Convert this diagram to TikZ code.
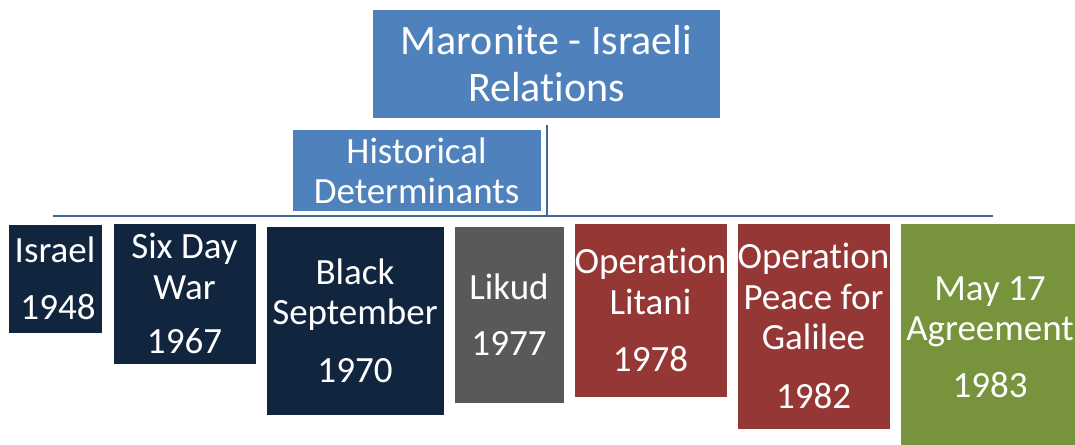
\documentclass[tikz,border=0pt]{standalone}
\usepackage{fontspec}
\setmainfont{Carlito}[Ligatures=NoCommon]
% break the t-i pair so no ligature is formed
\newcommand{\tI}{t\kern0pt i}
\definecolor{accentblue}{HTML}{4F81BD}
\definecolor{linkblue}{HTML}{40689C}
\definecolor{navy}{HTML}{12253F}
\definecolor{slate}{HTML}{595959}
\definecolor{brick}{HTML}{953735}
\definecolor{olive}{HTML}{77933C}
\tikzset{
  boxbase/.style={rectangle, inner sep=0pt, outer sep=0pt, text=white, align=center},
  titlebox/.style={boxbase, fill=accentblue, font=\fontsize{42bp}{47bp}\selectfont},
  subtitlebox/.style={boxbase, fill=accentblue, draw=white, line width=3bp,
    font=\fontsize{37bp}{40bp}\selectfont},
  eventbox/.style={boxbase, fill=#1, draw=white, line width=0.8bp,
    font=\fontsize{37bp}{40.5bp}\selectfont},
  link/.style={draw=linkblue, line width=2bp}
}
\begin{document}
\begin{tikzpicture}[x=1bp, y=-1bp]
\useasboundingbox (0,0) rectangle (1075,445);

% title and its branch point
\node[titlebox, minimum width=347bp, minimum height=108bp] (title) at (546.5,64)
  {Maronite - Israeli\\Rela\tI ons};
\coordinate (bar) at (547,216.5);

% timeline boxes
\node[eventbox=navy, minimum width=94bp, minimum height=109bp] (israel) at (55,278.5)
  {Israel\\[16bp]\hspace*{6bp}1948};
\node[eventbox=navy, minimum width=143bp, minimum height=141bp] (sixday) at (184.5,293.5)
  {Six Day\\War\\[14bp]1967};
\node[eventbox=navy, minimum width=178bp, minimum height=189bp] (blacksep) at (355,320.5)
  {Black\\September\\[17bp]1970};
\node[eventbox=slate, minimum width=110bp, minimum height=177bp] (likud) at (509,314.5)
  {Likud\\[16bp]1977};
\node[eventbox=brick, minimum width=153bp, minimum height=174bp] (litani) at (650.5,310)
  {Opera\tI on\\Li\kern0pt tani\\[17bp]1978};
\node[eventbox=brick, minimum width=153bp, minimum height=206bp] (peace) at (813.5,326)
  {Opera\tI on\\Peace for\\Galilee\\[18bp]1982};
\node[eventbox=olive, minimum width=180bp, minimum height=228bp] (may17) at (990,337)
  {May 17\\Agreement\\[16bp]1983};

% connectors: trunk from the title, bar over the timeline
\path[link] (title.south -| bar) ++(0,7) -- (bar);
\path[link] ([xshift=-2bp]israel.north |- bar) -- ([xshift=3bp]may17.north |- bar);

% sub-heading sits over the trunk
\node[subtitlebox, minimum width=251bp, minimum height=84bp] (hist) at (416.5,171)
  {Historical\\Determinants};
\end{tikzpicture}
\end{document}
